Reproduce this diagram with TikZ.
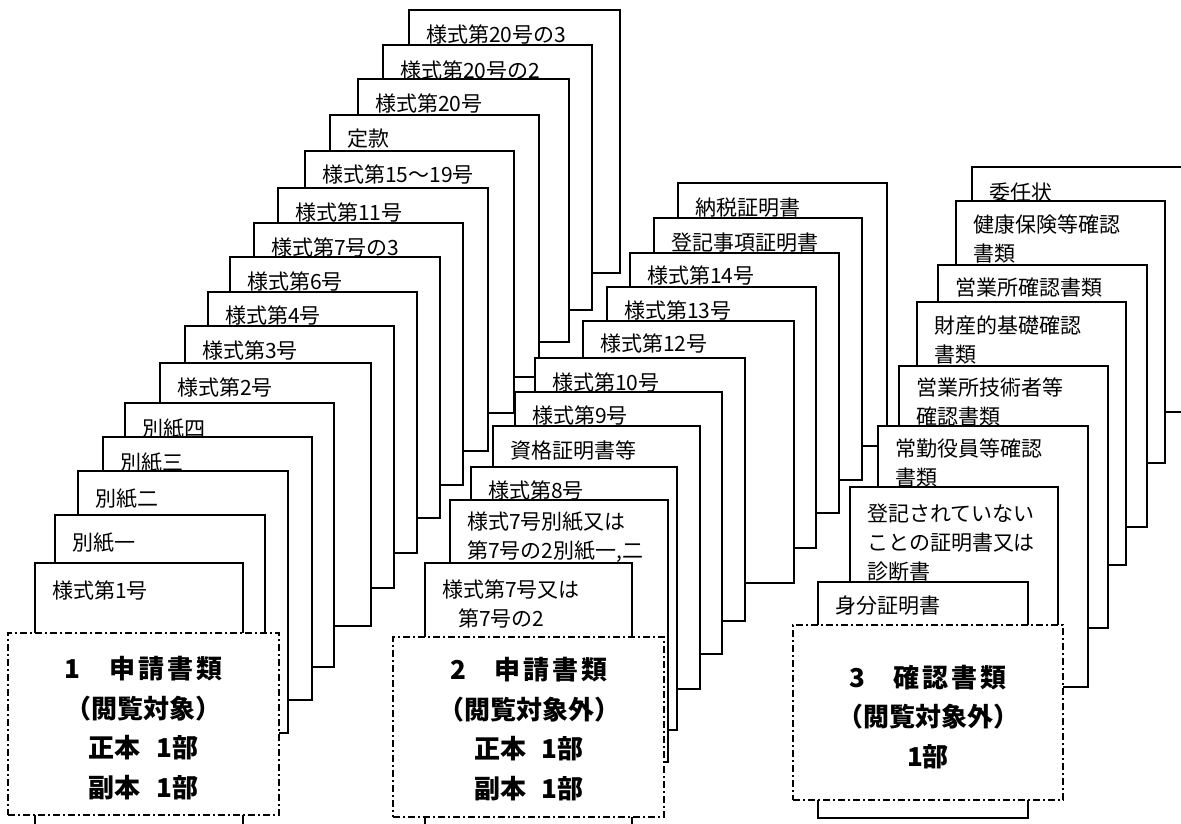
\documentclass[tikz,border=0pt]{standalone}
\usepackage{fontspec}
\newfontfamily\jp{Noto Sans CJK JP}
\newcommand{\doccard}[7]{%
  \node[cardbox, minimum width={(#4)-(#2)}, minimum height={(#5)-(#3)}] (#1) at (#2,#3) {};
  \node[lbl] (#1t) at ([xshift=17pt, yshift=-#6pt]#1.north west) {#7};
}
\begin{document}
\begin{tikzpicture}[x=1pt, y=-1pt,
  cardbox/.style={draw=black, fill=white, line width=1.8pt, inner sep=0pt, outer sep=0pt, anchor=north west},
  lbl/.style={font=\jp\fontsize{21}{29}\selectfont, inner sep=0pt, anchor=base west, align=left},
  groupbox/.style={draw=black, fill=white, line width=1.8pt, dash pattern=on 7pt off 3pt on 2pt off 3pt, inner sep=0pt, outer sep=0pt, anchor=north west},
  grouplbl/.style={font=\jp\bfseries\fontsize{26}{39.5}\selectfont, align=center, inner sep=0pt, anchor=base}]
\useasboundingbox (0,0) rectangle (1181,823);
\clip (0,0) rectangle (1181,823);
\fill[white] (0,0) rectangle (1181,823);
% ---- group 1 ----
\doccard{ga}{409}{10}{620}{273}{32}{様式第20号の3}
\doccard{gb}{383}{45}{592}{310}{33}{様式第20号の2}
\doccard{gc}{358}{79}{569}{342}{32}{様式第20号}
\doccard{gd}{330}{115}{539}{377}{31}{定款}
\doccard{ge}{305}{151}{514}{413}{31}{様式第15～19号}
\doccard{gf}{278}{188}{488}{451}{32}{様式第11号}
\doccard{gg}{254}{223}{463}{485}{32}{様式第7号の3}
\doccard{gh}{230}{257}{440}{518}{32}{様式第6号}
\doccard{gi}{208}{292}{417}{553}{31}{様式第4号}
\doccard{gj}{185}{326}{394}{588}{32}{様式第3号}
\doccard{gk}{160}{363}{371}{626}{32}{様式第2号}
\doccard{gl}{125}{403}{334}{667}{33}{別紙四}
\doccard{gm}{103}{437}{312}{700}{33}{別紙三}
\doccard{gn}{78}{471}{288}{733}{35}{別紙二}
\doccard{go}{55}{515}{265}{770}{35}{別紙一}
\doccard{gp}{35}{563}{243}{840}{35}{様式第1号}
\node[groupbox, minimum width=271, minimum height=182] (boxa) at (8,633) {};
\node[grouplbl] (boxat) at (143.5,797) {1\hspace{1.1em}申\kern3pt 請\kern3pt 書\kern3pt 類\\（閲覧対象）\\正本\hspace{0.6em}1部\\副本\hspace{0.6em}1部};
% ---- group 2 ----
\doccard{ha}{678}{183}{887}{446}{32}{納税証明書}
\doccard{hb}{654}{218}{862}{480}{32}{登記事項証明書}
\doccard{hc}{630}{253}{839}{513}{30}{様式第14号}
\doccard{hd}{607}{287}{816}{548}{31}{様式第13号}
\doccard{he}{583}{321}{794}{583}{30}{様式第12号}
\doccard{hf}{535}{358}{745}{621}{32}{様式第10号}
\doccard{hg}{515}{392}{722}{654}{31}{様式第9号}
\doccard{hh}{493}{426}{700}{689}{32}{資格証明書等}
\doccard{hi}{471}{467}{677}{730}{31}{様式第8号}
\doccard{hj}{450}{500}{668}{762}{58}{様式7号別紙又は\\第7号の2別紙一,二}
\doccard{hk}{425}{563}{632}{840}{63}{様式第7号又は\\\hspace*{16pt}第7号の2}
\node[groupbox, minimum width=271, minimum height=180] (boxb) at (393,637) {};
\node[grouplbl] (boxbt) at (529,798) {2\hspace{1.1em}申\kern3pt 請\kern3pt 書\kern3pt 類\\（閲覧対象外）\\正本\hspace{0.6em}1部\\副本\hspace{0.6em}1部};
% ---- group 3 ----
\doccard{ka}{972}{167}{1200}{412}{33}{委任状}
\doccard{kb}{956}{201}{1165}{463}{60}{健康保険等確認\\書類}
\doccard{kc}{938}{265}{1147}{527}{30}{営業所確認書類}
\doccard{kd}{917}{302}{1126}{565}{60}{財産的基礎確認\\書類}
\doccard{ke}{899}{366}{1108}{628}{58}{営業所技術者等\\確認書類}
\doccard{kf}{878}{426}{1088}{687}{59}{常勤役員等確認\\書類}
\doccard{kg}{850}{487}{1058}{740}{92}{登記されていない\\ことの証明書又は\\診断書}
\doccard{kh}{818}{582}{1028}{818}{31}{身分証明書}
\node[groupbox, minimum width=270, minimum height=175] (boxc) at (793,625) {};
\node[grouplbl] (boxct) at (928,766) {3\hspace{1.1em}確\kern3pt 認\kern3pt 書\kern3pt 類\\（閲覧対象外）\\1部};
\end{tikzpicture}
\end{document}
